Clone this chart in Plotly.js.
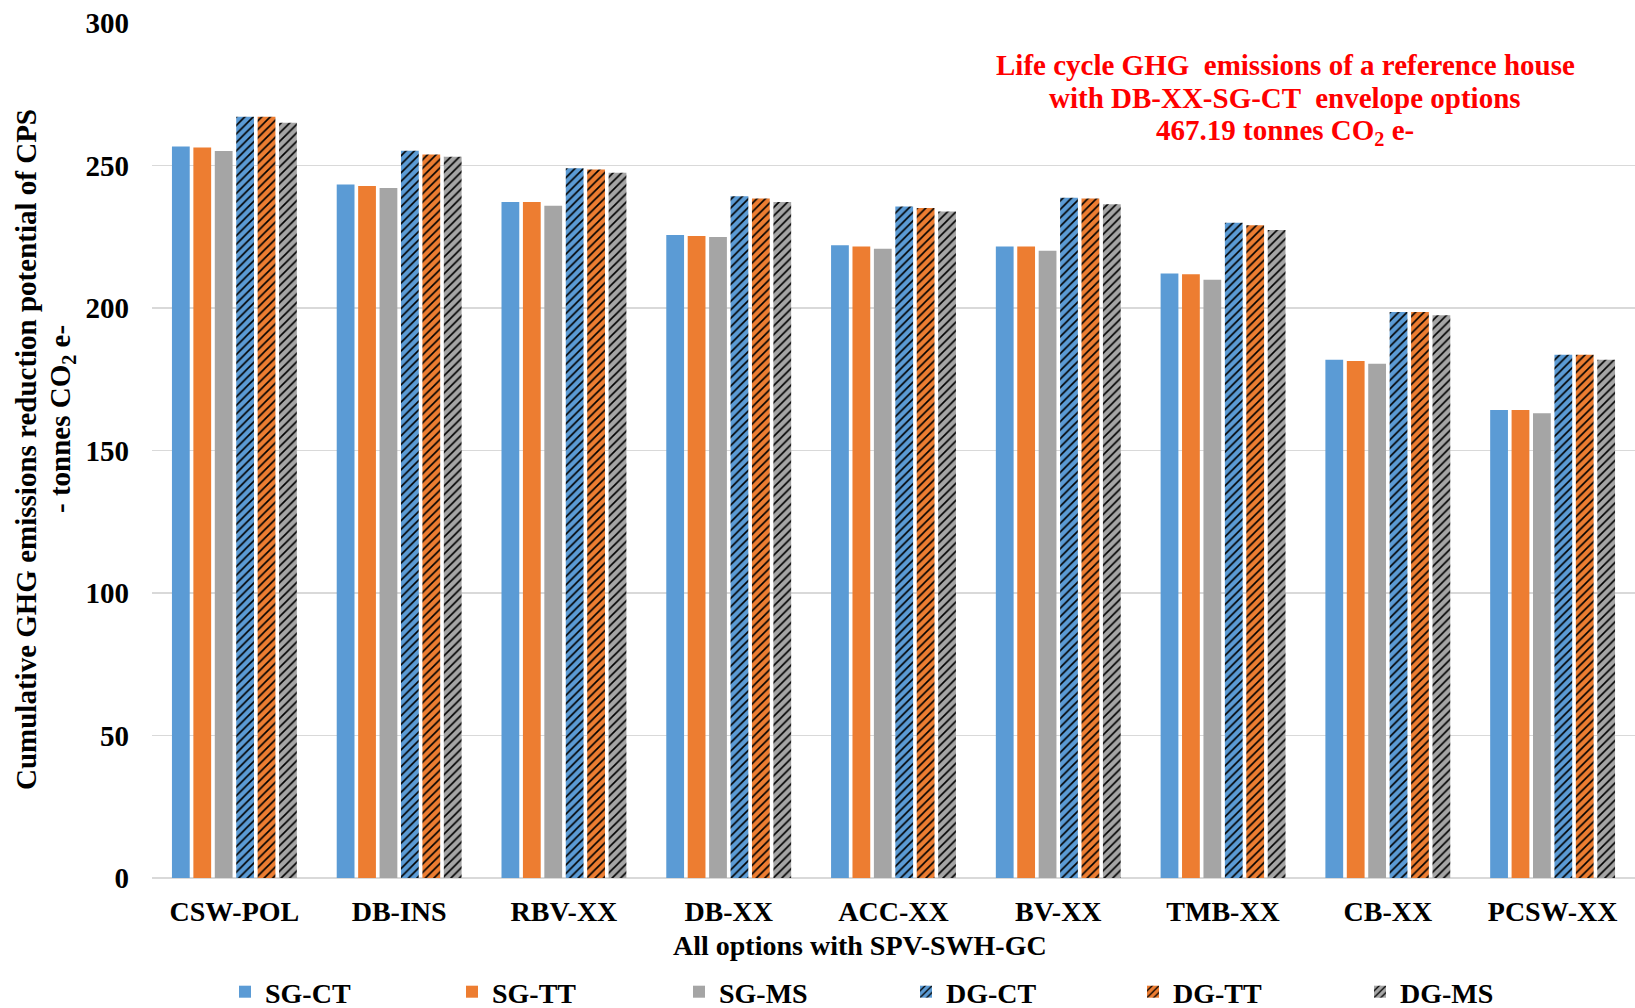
<!DOCTYPE html>
<html>
<head>
<meta charset="utf-8">
<script src="https://cdn.plot.ly/plotly-3.0.1.min.js"></script>
<style>
  html, body { margin: 0; padding: 0; background: #fff; }
  #chart { width: 1635px; height: 1008px; }
</style>
</head>
<body>
<div id="chart"></div>
<script>
const categories = ['CSW-POL', 'DB-INS', 'RBV-XX', 'DB-XX', 'ACC-XX', 'BV-XX', 'TMB-XX', 'CB-XX', 'PCSW-XX'];
const seriesNames = ['SG-CT', 'SG-TT', 'SG-MS', 'DG-CT', 'DG-TT', 'DG-MS'];
const sgCT = [256.7, 243.3, 237.2, 225.6, 222.0, 221.6, 212.1, 181.8, 164.2];
const sgTT = [256.3, 242.8, 237.2, 225.3, 221.6, 221.6, 211.8, 181.4, 164.2];
const sgMS = [255.1, 242.1, 235.9, 224.9, 220.8, 220.1, 209.9, 180.4, 163.1];
const dgCT = [267.1, 255.2, 249.0, 239.2, 235.6, 238.7, 229.9, 198.6, 183.6];
const dgTT = [267.1, 253.9, 248.6, 238.4, 235.1, 238.4, 229.0, 198.6, 183.6];
const dgMS = [265.0, 253.1, 247.5, 237.2, 233.9, 236.4, 227.4, 197.5, 181.8];
const yTicks = [0, 50, 100, 150, 200, 250, 300];
const noteLines = [
  'Life cycle GHG \u00a0emissions of a reference house',
  'with DB-XX-SG-CT \u00a0envelope options',
  '467.19 tonnes CO<sub>2</sub> e-'
];

const colors = ['#5B9BD5', '#ED7D31', '#A5A5A5', '#5B9BD5', '#ED7D31', '#A5A5A5'];
const values = [sgCT, sgTT, sgMS, dgCT, dgTT, dgMS];
const serif = 'Liberation Serif, Times New Roman, serif';

const traces = values.map((v, i) => {
  const hatched = i >= 3;
  const marker = { color: colors[i], line: { width: 0 } };
  if (hatched) {
    marker.pattern = { shape: '/', fgcolor: '#000000', bgcolor: colors[i], size: 6, solidity: 0.27, fillmode: 'replace' };
  }
  return { type: 'bar', name: seriesNames[i], x: categories, y: v, marker: marker };
});

// plot area: top 23, bottom 878 (height 855)
const py = (px) => (878 - px) / 855;

const noteY = [65, 98, 132];
const noteAnns = noteLines.map((t, i) => ({
  xref: 'paper', yref: 'paper', x: (1285 - 152) / 1483, y: py(noteY[i]),
  xanchor: 'center', yanchor: 'middle',
  text: '<b>' + t + '</b>', showarrow: false,
  font: { family: serif, size: 29, color: '#FF0000' }
}));

const layout = {
  width: 1635, height: 1008,
  margin: { l: 152, r: 0, t: 23, b: 130, autoexpand: false },
  paper_bgcolor: '#ffffff', plot_bgcolor: '#ffffff',
  barmode: 'group', bargap: 0.22, bargroupgap: 0.17,
  font: { family: serif, color: '#000000' },
  xaxis: {
    type: 'category', showgrid: false, zeroline: false,
    showline: false, ticks: '', automargin: false,
    tickfont: { family: serif, size: 28, weight: 'bold', color: '#000' },
    ticklabelstandoff: 14
  },
  yaxis: {
    range: [0, 300], tickvals: yTicks, ticktext: yTicks.map(String),
    showgrid: true, gridcolor: '#D9D9D9', gridwidth: 1.5,
    zeroline: true, zerolinecolor: '#D9D9D9', zerolinewidth: 1.5,
    showline: false, ticks: '', automargin: false,
    tickfont: { family: serif, size: 29, weight: 'bold', color: '#000' },
    ticklabelstandoff: 22
  },
  showlegend: true,
  legend: {
    orientation: 'h',
    xref: 'container', yref: 'container',
    x: 225 / 1635, xanchor: 'left', y: (1008 - 992) / 1008, yanchor: 'middle',
    entrywidth: 182, entrywidthmode: 'pixels',
    font: { family: serif, size: 28, weight: 'bold', color: '#000' },
    bgcolor: 'rgba(0,0,0,0)', traceorder: 'normal'
  },
  annotations: [
    {
      xref: 'paper', yref: 'paper', x: (860 - 152) / 1483, y: py(945), xanchor: 'center', yanchor: 'middle',
      text: '<b>All options with SPV-SWH-GC</b>', showarrow: false,
      font: { family: serif, size: 28, color: '#000' }
    },
    {
      xref: 'paper', yref: 'paper', x: (26 - 152) / 1483, y: py(450), xanchor: 'center', yanchor: 'middle',
      textangle: -90, text: '<b>Cumulative GHG emissions reduction potential of CPS</b>', showarrow: false,
      font: { family: serif, size: 29, color: '#000' }
    },
    {
      xref: 'paper', yref: 'paper', x: (62 - 152) / 1483, y: py(419), xanchor: 'center', yanchor: 'middle',
      textangle: -90, text: '<b>- tonnes CO<sub>2</sub> e-</b>', showarrow: false,
      font: { family: serif, size: 29, color: '#000' }
    }
  ].concat(noteAnns)
};

Plotly.newPlot('chart', traces, layout, { displayModeBar: false, staticPlot: true });
</script>
</body>
</html>
